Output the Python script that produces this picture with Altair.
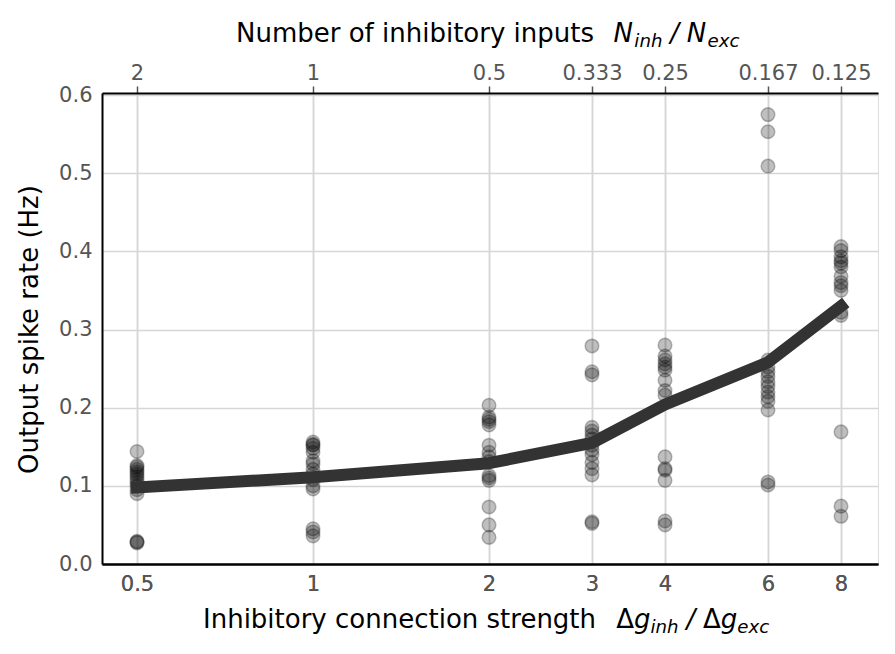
import altair as alt
import pandas as pd

# ---------------- data ----------------
x_ticks = [0.5, 1, 2, 3, 4, 6, 8]
bottom_labels = ["0.5", "1", "2", "3", "4", "6", "8"]
top_labels = ["2", "1", "0.5", "0.333", "0.25", "0.167", "0.125"]
y_ticks = [0.0, 0.1, 0.2, 0.3, 0.4, 0.5, 0.6]

rates_g05 = [0.144, 0.126, 0.124, 0.121, 0.118, 0.115, 0.112, 0.108, 0.104, 0.100,
             0.095, 0.090, 0.028, 0.027, 0.029]
rates_g1 = [0.156, 0.153, 0.152, 0.148, 0.143, 0.132, 0.128, 0.121, 0.115, 0.108,
            0.100, 0.096, 0.045, 0.041, 0.036]
rates_g2 = [0.203, 0.188, 0.185, 0.182, 0.178, 0.152, 0.143, 0.137, 0.131, 0.113,
            0.110, 0.107, 0.073, 0.050, 0.034]
rates_g3 = [0.279, 0.246, 0.242, 0.175, 0.170, 0.165, 0.160, 0.152, 0.146, 0.140,
            0.130, 0.122, 0.114, 0.054, 0.052]
rates_g4 = [0.280, 0.266, 0.261, 0.256, 0.252, 0.248, 0.235, 0.222, 0.216, 0.137,
            0.122, 0.120, 0.107, 0.055, 0.050]
rates_g6 = [0.575, 0.553, 0.509, 0.261, 0.252, 0.246, 0.240, 0.233, 0.227, 0.220,
            0.214, 0.208, 0.197, 0.105, 0.101]
rates_g8 = [0.406, 0.401, 0.393, 0.388, 0.385, 0.380, 0.368, 0.360, 0.356, 0.350,
            0.322, 0.318, 0.169, 0.074, 0.061]
mean_rate = [0.098, 0.111, 0.129, 0.155, 0.204, 0.258, 0.330]

groups = [rates_g05, rates_g1, rates_g2, rates_g3, rates_g4, rates_g6, rates_g8]
rows = []
for g, ys in zip(x_ticks, groups):
    for r in ys:
        rows.append({"g": g, "rate": r})
points = pd.DataFrame(rows)
means = pd.DataFrame({"g": x_ticks, "rate": mean_rate})


def label_expr(values, labels):
    expr = "''"
    for v, l in reversed(list(zip(values, labels))):
        expr = f"(datum.value == {v} ? '{l}' : {expr})"
    return expr


FONT = "DejaVu Sans"
TICK_FS = 21
TITLE_FS = 26
SUB_FS = TITLE_FS * 0.7
LABEL_COLOR = "#555555"
GRID_COLOR = "#d6d6d6"

xscale = alt.Scale(type="log", base=2, domain=[0.4356, 9.254], nice=False)
yscale = alt.Scale(domain=[0, 0.6026], nice=False, zero=False)

bottom_axis = alt.Axis(orient="bottom", values=x_ticks,
                       labelExpr=label_expr(x_ticks, bottom_labels),
                       title=None, grid=True, gridColor=GRID_COLOR, gridWidth=1.5,
                       ticks=False, labelPadding=9, labelFontSize=TICK_FS,
                       labelColor=LABEL_COLOR, labelFont=FONT,
                       domainColor="black", domainWidth=2)
top_axis = alt.Axis(orient="top", values=x_ticks,
                    labelExpr=label_expr(x_ticks, top_labels),
                    title=None, grid=False, ticks=True, tickSize=7, tickWidth=1.5,
                    tickColor=LABEL_COLOR, labelPadding=3, labelFontSize=TICK_FS,
                    labelColor=LABEL_COLOR, labelFont=FONT,
                    domainColor="black", domainWidth=2)
left_axis = alt.Axis(values=y_ticks, format=".1f", ticks=False, labelPadding=10,
                     grid=True, gridColor=GRID_COLOR, gridWidth=1.5,
                     labelFontSize=TICK_FS, labelColor=LABEL_COLOR, labelFont=FONT,
                     domainColor="black", domainWidth=2,
                     title="Output spike rate (Hz)", titleFontSize=TITLE_FS,
                     titleFontWeight="normal", titleFont=FONT, titleColor="black",
                     titleAngle=270, titleX=-73, titleY=236,
                     titleAlign="center", titleBaseline="middle")

X = alt.X("g:Q", scale=xscale, axis=bottom_axis)
Y = alt.Y("rate:Q", scale=yscale, axis=left_axis)

scatter = alt.Chart(points).mark_circle(
    size=185, fill="black", fillOpacity=0.25, stroke="black",
    strokeOpacity=0.25, strokeWidth=1.5
).encode(x=X, y=Y)

mean_line = alt.Chart(means).mark_line(
    color="#333333", strokeWidth=12, strokeCap="square", strokeJoin="round"
).encode(x=X, y=Y)

top_layer = alt.Chart(means).mark_line(opacity=0).encode(
    x=alt.X("g:Q", scale=xscale, axis=top_axis), y=Y)

# ---------- titles with math-like pieces ----------
W = {"N": 0.748, "u": 0.634, "m": 0.974, "b": 0.635, "e": 0.615, "r": 0.411,
     " ": 0.318, "o": 0.612, "f": 0.352, "i": 0.278, "n": 0.634, "h": 0.634,
     "t": 0.392, "y": 0.592, "p": 0.635, "s": 0.521, "I": 0.295, "c": 0.550,
     "g": 0.635, "x": 0.592, "/": 0.337, "Δ": 0.684, "a": 0.613}


def width(txt, fs):
    return sum(W.get(ch, 0.6) for ch in txt) * fs


def title_pieces(x0, y0, pieces):
    layers = []
    x = x0
    one = pd.DataFrame({"k": [0]})
    for txt, kind in pieces:
        if kind == "gap":
            x += txt * TITLE_FS
            continue
        fs = SUB_FS if kind == "sub" else TITLE_FS
        style = "normal" if kind == "normal" else "italic"
        dy = 5 if kind == "sub" else 0
        layers.append(alt.Chart(one).mark_text(
            align="left", baseline="alphabetic", font=FONT, fontSize=fs,
            fontStyle=style, color="black", dy=dy
        ).encode(x=alt.value(x), y=alt.value(y0), text=alt.value(txt)))
        x += width(txt, fs)
    return layers


top_title = title_pieces(134, -51, [
    ("Number of inhibitory inputs", "normal"), (0.75, "gap"),
    ("N", "italic"), (0.05, "gap"), ("inh", "sub"),
    (0.3, "gap"), ("/", "italic"), (0.3, "gap"),
    ("N", "italic"), (0.05, "gap"), ("exc", "sub")])
bottom_title = title_pieces(101, 535, [
    ("Inhibitory connection strength", "normal"), (0.75, "gap"),
    ("Δ", "normal"), ("g", "italic"), ("inh", "sub"),
    (0.3, "gap"), ("/", "italic"), (0.3, "gap"),
    ("Δ", "normal"), ("g", "italic"), ("exc", "sub")])

chart = alt.layer(
    scatter, mean_line, top_layer, *top_title, *bottom_title
).resolve_axis(x="independent").properties(
    width=776, height=471,
    autosize=alt.AutoSizeParams(type="none"),
    padding={"left": 94, "top": 85, "right": 9, "bottom": 82},
).configure_view(stroke=None).configure(font=FONT)

chart.save("out.html", embed_options={"renderer": "svg", "actions": False})
